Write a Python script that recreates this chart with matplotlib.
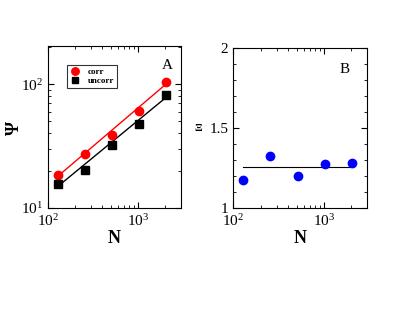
import matplotlib
matplotlib.use("Agg")
import matplotlib.pyplot as plt
from matplotlib.ticker import LogLocator, MultipleLocator, NullFormatter

plt.rcParams['font.family'] = ['Liberation Serif', 'DejaVu Serif']
plt.rcParams['mathtext.fontset'] = 'stix'

N = [128, 256, 512, 1024, 2048]
psi_corr = [18.5, 27.3, 39.0, 61.0, 104.0]
psi_uncorr = [15.7, 20.4, 32.5, 47.9, 81.9]
fit_N = [128, 2048]
fit_corr = [18.0, 100.0]
fit_uncorr = [14.9, 78.0]
xi = [1.18, 1.33, 1.20, 1.28, 1.285]
xi_fit = [1.258, 1.258]

fig = plt.figure(figsize=(4.15, 3.21), dpi=100)

def style(ax):
    ax.tick_params(which='both', direction='in', top=True, right=True, labelsize=11)
    ax.tick_params(which='major', length=4)
    ax.tick_params(which='minor', length=2)
    for s in ax.spines.values():
        s.set_linewidth(0.8)

axA = fig.add_axes([0.1157, 0.352, 0.320, 0.506])
axA.set_xscale('log'); axA.set_yscale('log')
axA.plot(fit_N, fit_corr, color='red', lw=1)
axA.plot(fit_N, fit_uncorr, color='black', lw=1)
axA.plot(N, psi_corr, 'o', color='red', ms=6, label='corr')
axA.plot(N, psi_uncorr, 's', color='black', ms=5.5, label='uncorr')
axA.set_xlim(100, 3000)
axA.set_ylim(10, 205)
axA.xaxis.set_major_locator(LogLocator(base=10, numticks=10))
axA.yaxis.set_major_locator(LogLocator(base=10, numticks=10))
axA.xaxis.set_minor_formatter(NullFormatter())
axA.yaxis.set_minor_formatter(NullFormatter())
style(axA)
axA.set_xlabel('N', fontsize=13, fontweight='bold', labelpad=1)
axA.set_ylabel('Ψ', fontsize=13, fontweight='bold', va='center', ha='center')
axA.yaxis.set_label_coords(-0.256, 0.49)
axA.text(0.90, 0.88, 'A', transform=axA.transAxes, fontsize=11, ha='center', va='center')
leg = axA.legend(loc='upper left', bbox_to_anchor=(0.11, 0.91),
                 prop={'weight': 'bold', 'size': 6.5}, frameon=True, fancybox=False,
                 edgecolor='black', handlelength=1.2, handletextpad=0.8,
                 borderpad=0.3, labelspacing=0.15, markerscale=0.9)
leg.get_frame().set_linewidth(0.8)

axB = fig.add_axes([0.562, 0.351, 0.323, 0.498])
axB.set_xscale('log')
axB.plot(fit_N, xi_fit, color='black', lw=0.8)
axB.plot(N, xi, 'o', color='blue', ms=6)
axB.set_xlim(100, 3000)
axB.set_ylim(1, 2)
axB.xaxis.set_major_locator(LogLocator(base=10, numticks=10))
axB.xaxis.set_minor_formatter(NullFormatter())
axB.yaxis.set_minor_locator(MultipleLocator(0.1))
axB.set_yticks([1, 1.5, 2])
axB.set_yticklabels(['1', '1.5', '2'])
style(axB)
axB.set_xlabel('N', fontsize=13, fontweight='bold', labelpad=1)
axB.set_ylabel('Ξ', fontsize=8, fontweight='bold', rotation=0, va='center', ha='center')
axB.yaxis.set_label_coords(-0.263, 0.5)
axB.text(0.83, 0.87, 'B', transform=axB.transAxes, fontsize=11, ha='center', va='center')

fig.savefig('out.png', dpi=100)
